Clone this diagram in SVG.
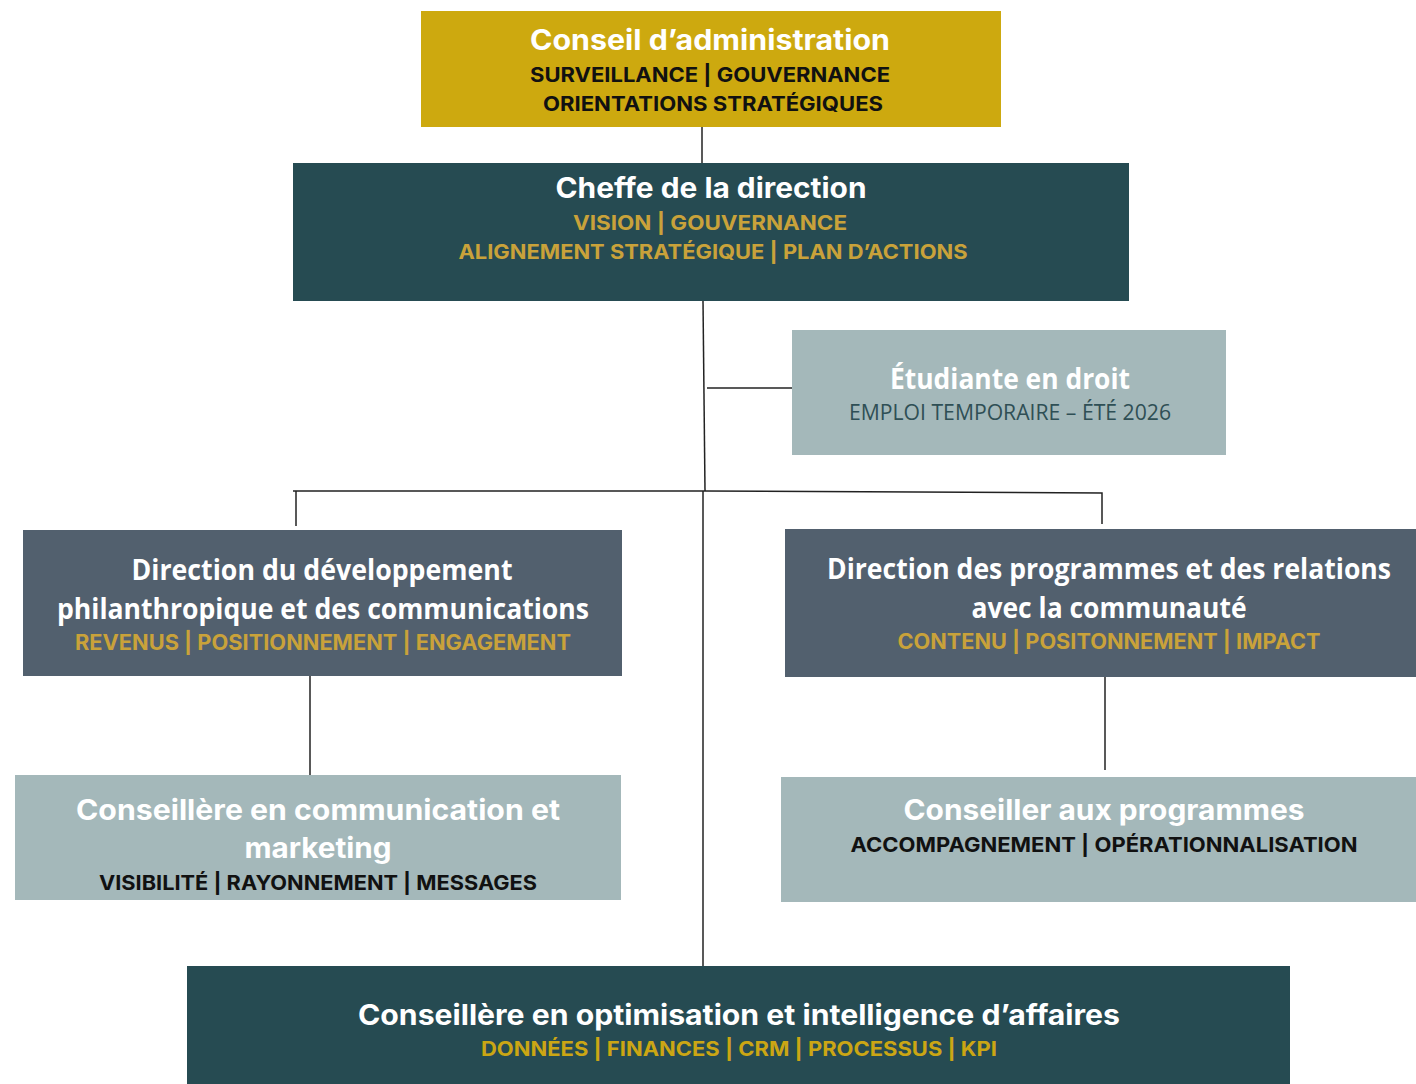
<svg xmlns="http://www.w3.org/2000/svg" width="1416" height="1084" viewBox="0 0 1416 1084">
<style>
.bg{fill:#ffffff}
.gold{fill:#CDA90F}
.teal{fill:#264B52}
.slate{fill:#52606E}
.pale{fill:#A4B8BA}
.h{font-family:Inter,"Liberation Sans",sans-serif;font-weight:700;fill:#ffffff;text-anchor:middle}
.c{font-family:"Open Sans","Noto Sans",sans-serif;font-weight:700;fill:#ffffff;text-anchor:middle}
.s{font-family:Inter,"Liberation Sans",sans-serif;font-weight:700;text-anchor:middle}
.k{fill:#111111}
.y{fill:#C9A23A}
.y2{fill:#CBA614}
.e{font-family:"Open Sans","Noto Sans",sans-serif;font-weight:400;fill:#2F4F55;text-anchor:middle}
.ln{stroke:#222222;stroke-width:1.5;fill:none}
</style>
<rect class="bg" x="0" y="0" width="1416" height="1084"/>
<g id="connectors">
<line class="ln" x1="702" y1="127" x2="702" y2="163"/>
<line class="ln" x1="703" y1="301" x2="705" y2="491"/>
<line class="ln" x1="707" y1="388" x2="792" y2="388"/>
<polyline class="ln" points="293,491 705,491 1102,493 1102,524"/>
<line class="ln" x1="296" y1="491" x2="296" y2="526"/>
<line class="ln" x1="703" y1="491" x2="703" y2="966"/>
<line class="ln" x1="310" y1="672" x2="310" y2="776"/>
<line class="ln" x1="1105" y1="675" x2="1105" y2="770"/>
</g>
<g id="conseil">
<rect class="gold" x="421" y="11" width="580" height="116"/>
<text class="h" x="710" y="50" font-size="28" textLength="360" lengthAdjust="spacingAndGlyphs">Conseil d’administration</text>
<text class="s k" x="710" y="82" font-size="20" textLength="360" lengthAdjust="spacingAndGlyphs">SURVEILLANCE | GOUVERNANCE</text>
<text class="s k" x="713" y="111" font-size="20" textLength="340" lengthAdjust="spacingAndGlyphs">ORIENTATIONS STRATÉGIQUES</text>
</g>
<g id="cheffe">
<rect class="teal" x="293" y="163" width="836" height="138"/>
<text class="h" x="711" y="198" font-size="28" textLength="311" lengthAdjust="spacingAndGlyphs">Cheffe de la direction</text>
<text class="s y" x="710" y="230" font-size="20" textLength="274" lengthAdjust="spacingAndGlyphs">VISION  | GOUVERNANCE</text>
<text class="s y" x="713" y="259" font-size="20" textLength="509" lengthAdjust="spacingAndGlyphs">ALIGNEMENT STRATÉGIQUE | PLAN D’ACTIONS</text>
</g>
<g id="etudiante">
<rect class="pale" x="792" y="330" width="434" height="125"/>
<text class="c" x="1010" y="389" font-size="28" textLength="240" lengthAdjust="spacingAndGlyphs">Étudiante en droit</text>
<text class="e" x="1010" y="420" font-size="21" textLength="322" lengthAdjust="spacingAndGlyphs">EMPLOI TEMPORAIRE – ÉTÉ 2026</text>
</g>
<g id="dir-dev">
<rect class="slate" x="23" y="530" width="599" height="146"/>
<text class="c" x="322" y="580" font-size="28" textLength="381" lengthAdjust="spacingAndGlyphs">Direction du développement</text>
<text class="c" x="323" y="619" font-size="28" textLength="532" lengthAdjust="spacingAndGlyphs">philanthropique et des communications</text>
<text class="s y" x="323" y="650" font-size="21" textLength="496" lengthAdjust="spacingAndGlyphs">REVENUS | POSITIONNEMENT | ENGAGEMENT</text>
</g>
<g id="dir-prog">
<rect class="slate" x="785" y="529" width="631" height="148"/>
<text class="c" x="1109" y="579" font-size="28" textLength="564" lengthAdjust="spacingAndGlyphs">Direction des programmes et des relations</text>
<text class="c" x="1109" y="618" font-size="28" textLength="275" lengthAdjust="spacingAndGlyphs">avec la communauté</text>
<text class="s y" x="1109" y="649" font-size="21" textLength="423" lengthAdjust="spacingAndGlyphs">CONTENU | POSITONNEMENT | IMPACT</text>
</g>
<g id="conseillere-comm">
<rect class="pale" x="15" y="775" width="606" height="125"/>
<text class="h" x="318" y="820" font-size="28" textLength="484" lengthAdjust="spacingAndGlyphs">Conseillère en communication et</text>
<text class="h" x="318" y="858" font-size="28" textLength="147" lengthAdjust="spacingAndGlyphs">marketing</text>
<text class="s k" x="318" y="890" font-size="20" textLength="438" lengthAdjust="spacingAndGlyphs">VISIBILITÉ | RAYONNEMENT | MESSAGES</text>
</g>
<g id="conseiller-prog">
<rect class="pale" x="781" y="777" width="635" height="125"/>
<text class="h" x="1104" y="820" font-size="28" textLength="401" lengthAdjust="spacingAndGlyphs">Conseiller aux programmes</text>
<text class="s k" x="1104" y="852" font-size="20" textLength="507" lengthAdjust="spacingAndGlyphs">ACCOMPAGNEMENT | OPÉRATIONNALISATION</text>
</g>
<g id="conseillere-optim">
<rect class="teal" x="187" y="966" width="1103" height="118"/>
<text class="h" x="739" y="1025" font-size="28" textLength="762" lengthAdjust="spacingAndGlyphs">Conseillère en optimisation et intelligence d’affaires</text>
<text class="s y2" x="739" y="1056" font-size="20" textLength="516" lengthAdjust="spacingAndGlyphs">DONNÉES | FINANCES | CRM | PROCESSUS | KPI</text>
</g>
</svg>
